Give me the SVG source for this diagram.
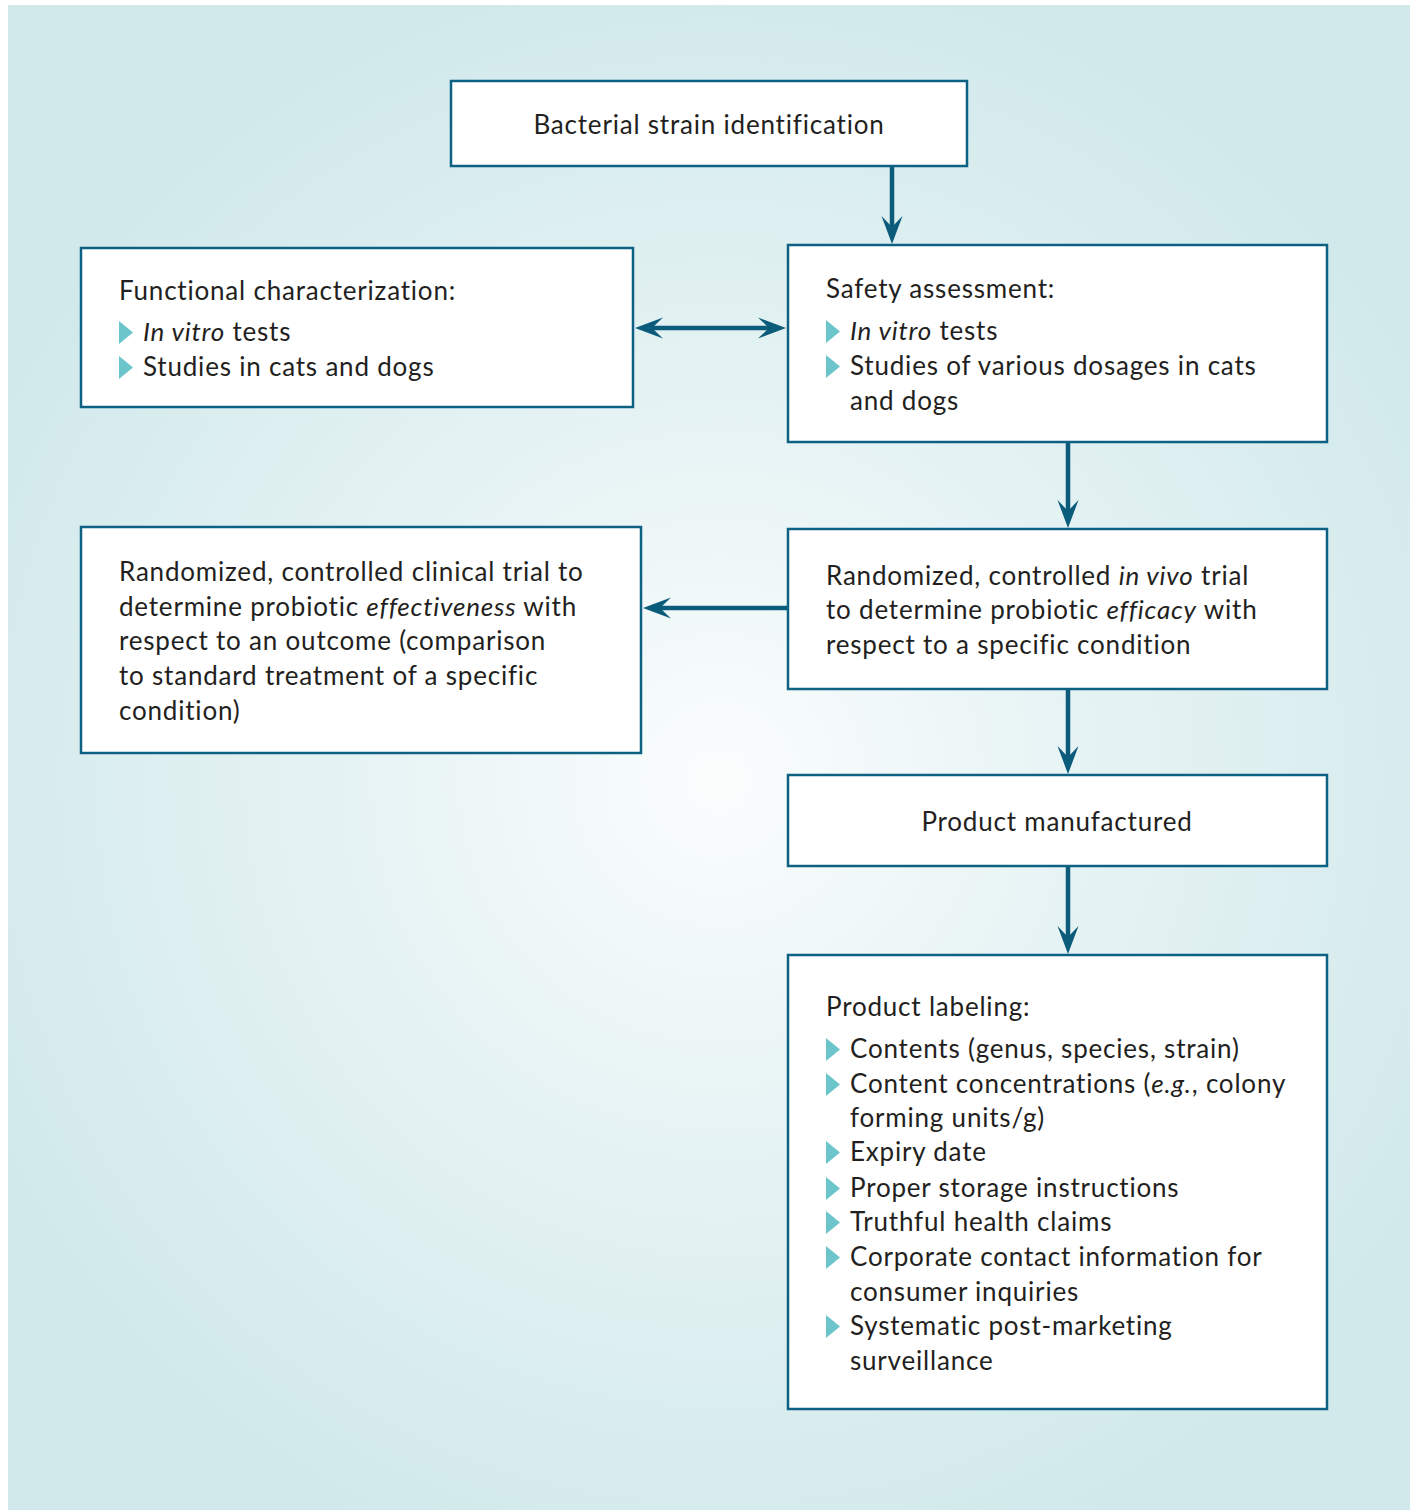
<svg xmlns="http://www.w3.org/2000/svg" width="1416" height="1510" viewBox="0 0 1416 1510">
<defs>
<radialGradient id="bg" cx="720" cy="780" r="820" gradientUnits="userSpaceOnUse">
<stop offset="0" stop-color="#fbfdfd"/>
<stop offset="0.45" stop-color="#e6f3f4"/>
<stop offset="1" stop-color="#d1e9eb"/>
</radialGradient>
<marker id="ah" viewBox="-16 -12 34 24" markerWidth="34" markerHeight="24" refX="0" refY="0" markerUnits="userSpaceOnUse" orient="auto-start-reverse">
<path d="M16,0 L-12,-10.5 L-1,0 L-12,10.5 Z" fill="#0b5b7b"/>
</marker>
</defs>
<style>
.box{fill:#ffffff;stroke:#0d6182;stroke-width:2.5}
.t{font-family:Lato,"Open Sans","Liberation Sans",sans-serif;font-size:26px;fill:#231f20;letter-spacing:0.8px;font-variant-ligatures:none}
.i{font-style:italic}
.b{fill:#6cc5cb}
.c{stroke:#0b5b7b;stroke-width:4.5;fill:none}
</style>
<rect x="8" y="5" width="1402" height="1505" fill="url(#bg)"/>

<g id="connectors">
<line class="c" x1="892" y1="166" x2="892" y2="228" marker-end="url(#ah)"/>
<line class="c" x1="651" y1="328" x2="770" y2="328" marker-start="url(#ah)" marker-end="url(#ah)"/>
<line class="c" x1="1068" y1="443" x2="1068" y2="512" marker-end="url(#ah)"/>
<line class="c" x1="788" y1="608" x2="659" y2="608" marker-end="url(#ah)"/>
<line class="c" x1="1068" y1="689" x2="1068" y2="758" marker-end="url(#ah)"/>
<line class="c" x1="1068" y1="866" x2="1068" y2="938" marker-end="url(#ah)"/>
</g>

<g id="n-strain">
<rect class="box" x="451" y="81" width="516" height="85"/>
<text class="t" x="709" y="134" text-anchor="middle">Bacterial strain identification</text>
</g>

<g id="n-functional">
<rect class="box" x="81" y="248" width="552" height="159"/>
<text class="t" x="119" y="300">Functional characterization:</text>
<path class="b" d="M119,321 L133,332.5 L119,344 Z"/>
<text class="t" x="143" y="341"><tspan class="i">In vitro</tspan> tests</text>
<path class="b" d="M119,356 L133,367.5 L119,379 Z"/>
<text class="t" x="143" y="376">Studies in cats and dogs</text>
</g>

<g id="n-safety">
<rect class="box" x="788" y="245" width="539" height="197"/>
<text class="t" x="826" y="298">Safety assessment:</text>
<path class="b" d="M826,320 L840,331.5 L826,343 Z"/>
<text class="t" x="850" y="340"><tspan class="i">In vitro</tspan> tests</text>
<path class="b" d="M826,355 L840,366.5 L826,378 Z"/>
<text class="t" x="850" y="375">Studies of various dosages in cats</text>
<text class="t" x="850" y="410">and dogs</text>
</g>

<g id="n-effectiveness">
<rect class="box" x="81" y="527" width="560" height="226"/>
<text class="t" x="119" y="581">Randomized, controlled clinical trial to</text>
<text class="t" x="119" y="616">determine probiotic <tspan class="i">effectiveness</tspan> with</text>
<text class="t" x="119" y="650">respect to an outcome (comparison</text>
<text class="t" x="119" y="685">to standard treatment of a specific</text>
<text class="t" x="119" y="720">condition)</text>
</g>

<g id="n-efficacy">
<rect class="box" x="788" y="529" width="539" height="160"/>
<text class="t" x="826" y="585">Randomized, controlled <tspan class="i">in vivo</tspan> trial</text>
<text class="t" x="826" y="619">to determine probiotic <tspan class="i">efficacy</tspan> with</text>
<text class="t" x="826" y="654">respect to a specific condition</text>
</g>

<g id="n-manufactured">
<rect class="box" x="788" y="775" width="539" height="91"/>
<text class="t" x="1057" y="831" text-anchor="middle">Product manufactured</text>
</g>

<g id="n-labeling">
<rect class="box" x="788" y="955" width="539" height="454"/>
<text class="t" x="826" y="1016">Product labeling:</text>
<path class="b" d="M826,1038 L840,1049.5 L826,1061 Z"/>
<text class="t" x="850" y="1058">Contents (genus, species, strain)</text>
<path class="b" d="M826,1073 L840,1084.5 L826,1096 Z"/>
<text class="t" x="850" y="1093">Content concentrations (<tspan class="i">e.g.</tspan>, colony</text>
<text class="t" x="850" y="1127">forming units/g)</text>
<path class="b" d="M826,1141 L840,1152.5 L826,1164 Z"/>
<text class="t" x="850" y="1161">Expiry date</text>
<path class="b" d="M826,1177 L840,1188.5 L826,1200 Z"/>
<text class="t" x="850" y="1197">Proper storage instructions</text>
<path class="b" d="M826,1211 L840,1222.5 L826,1234 Z"/>
<text class="t" x="850" y="1231">Truthful health claims</text>
<path class="b" d="M826,1246 L840,1257.5 L826,1269 Z"/>
<text class="t" x="850" y="1266">Corporate contact information for</text>
<text class="t" x="850" y="1301">consumer inquiries</text>
<path class="b" d="M826,1315 L840,1326.5 L826,1338 Z"/>
<text class="t" x="850" y="1335">Systematic post-marketing</text>
<text class="t" x="850" y="1370">surveillance</text>
</g>
</svg>
